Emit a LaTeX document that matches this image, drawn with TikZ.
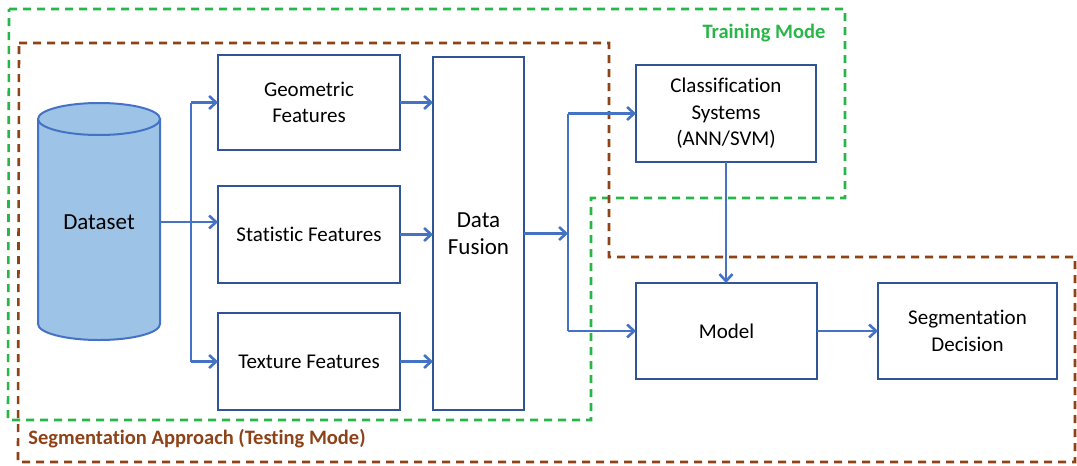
\documentclass[tikz,border=0pt]{standalone}
\usepackage{fontspec}
\setmainfont[Ligatures=NoCommon]{Carlito}
\usetikzlibrary{arrows.meta}
\definecolor{grn}{RGB}{40,182,72}
\definecolor{brn}{RGB}{142,66,24}
\definecolor{boxblue}{RGB}{47,85,151}
\definecolor{arrblue}{RGB}{68,114,196}
\definecolor{cylfill}{RGB}{157,195,230}
\begin{document}
\begin{tikzpicture}[x=1pt,y=-1pt,
  stepbox/.style={draw=boxblue,line width=2.2pt,fill=white,align=center,inner sep=0pt,outer sep=0pt,
    font=\fontsize{21}{26.5}\selectfont},
  arr/.style={draw=arrblue,line width=2.6pt,-{Straight Barb[length=7pt,width=13pt]}},
  conn/.style={draw=arrblue,line width=2.6pt},
  grnline/.style={draw=grn,line width=2.6pt,dash pattern=on 8pt off 6pt},
  brnline/.style={draw=brn,line width=2.6pt,dash pattern=on 8pt off 6pt},
]
\useasboundingbox (0,0) rectangle (1077,466);
% dashed regions
\draw[grnline] (9,9) -- (845,9) -- (845,198) -- (591,198) -- (591,420) -- (8,420) -- cycle;
\draw[brnline] (19,43) -- (609,43) -- (609,257) -- (1075,257) -- (1075,462) -- (18,462) -- cycle;
\node[font=\fontsize{20.5}{24}\selectfont\bfseries,text=grn] (tm) at (764,33) {Training Mode};
\node[font=\fontsize{20.5}{24}\selectfont\bfseries,text=brn] (sa) at (197,439) {Segmentation Approach (Testing Mode)};
% cylinder
\filldraw[fill=cylfill,draw=arrblue,line width=2pt] (38,119) -- (38,324)
  arc[start angle=180,end angle=360,x radius=61pt,y radius=16pt] -- (160,119) -- cycle;
\filldraw[fill=cylfill,draw=arrblue,line width=2pt] (99,119) ellipse[x radius=61pt,y radius=16pt];
\node[minimum width=122pt,minimum height=237pt,inner sep=0pt,outer sep=0pt,font=\fontsize{23}{27}\selectfont] (ds) at (99,222) {Dataset};
% boxes
\node[stepbox,minimum width=182pt,minimum height=95pt] (geo) at (309,102.5) {Geometric\\Features};
\node[stepbox,minimum width=182pt,minimum height=97pt] (stat) at (309,234.5) {Statistic Features};
\node[stepbox,minimum width=182pt,minimum height=97pt] (tex) at (309,361.5) {Texture Features};
\node[stepbox,minimum width=91pt,minimum height=353pt,font=\fontsize{23}{27}\selectfont] (fus) at (478.5,233.5) {Data\\Fusion};
\node[stepbox,minimum width=180pt,minimum height=97pt] (cls) at (726,113.5) {Classification\\Systems\\(ANN/SVM)};
\node[stepbox,minimum width=181pt,minimum height=96pt] (model) at (726.5,331) {Model};
\node[stepbox,minimum width=179pt,minimum height=96pt] (seg) at (967.5,331) {Segmentation\\Decision};
% connectors
\coordinate (b1) at (191,222);
\coordinate (b2) at (568,233.5);
\draw[arr] (ds.east) -- (ds.east -| stat.west);
\draw[conn] (b1 |- geo.west) -- (b1 |- tex.west);
\draw[arr] (b1 |- geo.west) -- (geo.west);
\draw[arr] (b1 |- tex.west) -- (tex.west);
\draw[arr] (geo.east) -- (geo.east -| fus.west);
\draw[arr] (stat.east) -- (stat.east -| fus.west);
\draw[arr] (tex.east) -- (tex.east -| fus.west);
\draw[arr] (fus.east) -- (b2);
\draw[conn] (b2 |- cls.west) -- (b2 |- model.west);
\draw[arr] (b2 |- cls.west) -- (cls.west);
\draw[arr] (b2 |- model.west) -- (model.west);
\draw[arr] (cls.south) -- (cls.south |- model.north);
\draw[arr] (model.east) -- (seg.west);
\end{tikzpicture}
\end{document}
